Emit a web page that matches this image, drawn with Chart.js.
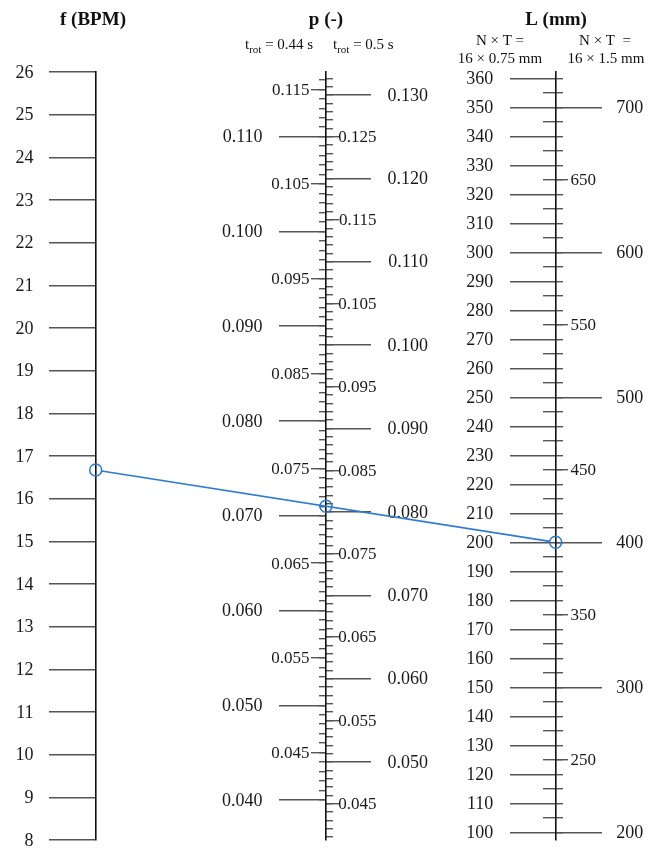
<!DOCTYPE html>
<html>
<head>
<meta charset="utf-8">
<script src="https://cdn.jsdelivr.net/npm/chart.js@4.4.1/dist/chart.umd.min.js"></script>
<style>
  html, body { margin: 0; padding: 0; background: #ffffff; }
  #wrap { position: relative; width: 648px; height: 849px; }
  canvas { display: block; }
</style>
</head>
<body>
<div id="wrap"><canvas id="nomo" width="648" height="849"></canvas></div>
<script>
// ---------------- DATA ----------------
// f (BPM) scale
const fTicks = [8, 9, 10, 11, 12, 13, 14, 15, 16, 17, 18, 19, 20, 21, 22, 23, 24, 25, 26];
// p (-) scale, t_rot = 0.44 s (left side)
const pLeftMajor = [0.040, 0.050, 0.060, 0.070, 0.080, 0.090, 0.100, 0.110];
const pLeftMid = [0.045, 0.055, 0.065, 0.075, 0.085, 0.095, 0.105, 0.115];
const pLeftMinorSpan = [40, 116];      // thousandths
// p (-) scale, t_rot = 0.5 s (right side)
const pRightMajor = [0.050, 0.060, 0.070, 0.080, 0.090, 0.100, 0.110, 0.120, 0.130];
const pRightMid = [0.045, 0.055, 0.065, 0.075, 0.085, 0.095, 0.105, 0.115, 0.125];
const pRightMinorSpan = [41, 132];     // thousandths
// L (mm) scale, N x T = 16 x 0.75 mm (left side)
const LLeftMajor = [100, 110, 120, 130, 140, 150, 160, 170, 180, 190, 200, 210, 220, 230, 240, 250, 260, 270, 280, 290, 300, 310, 320, 330, 340, 350, 360];
const LLeftMid = [105, 115, 125, 135, 145, 155, 165, 175, 185, 195, 205, 215, 225, 235, 245, 255, 265, 275, 285, 295, 305, 315, 325, 335, 345, 355];
// L (mm) scale, N x T = 16 x 1.5 mm (right side)
const LRightMajor = [200, 300, 400, 500, 600, 700];
const LRightMid = [250, 350, 450, 550, 650];
// Isopleth (example reading)
const isoF = [16.67];          // BPM
const isoP = [0.071, 0.0807];  // p at t_rot = 0.44 s, 0.5 s
const isoL = [200, 400];       // mm at 16x0.75, 16x1.5

// ---------------- LAYOUT ----------------
const COL = { f: 95.7, p: 326, L: 555.7 };         // column x positions (px)
const RANGE = {
  f: [8, 26],
  pL: [0.03578, 0.11682],
  pR: [0.03578 * 0.5 / 0.44, 0.11682 * 0.5 / 0.44],
  L1: [97.34, 362.17],
  L2: [194.68, 724.34]
};
const SERIF = "'Liberation Serif', 'Times New Roman', serif";
const BLUE = '#2b7bd3';
const TICK = '#555555';
const AXIS = '#111111';

function thousandths(span) {
  const out = [];
  for (let i = span[0]; i <= span[1]; i++) out.push(i / 1000);
  return out;
}
const pLeftMinor = thousandths(pLeftMinorSpan);
const pRightMinor = thousandths(pRightMinorSpan);
const LAll5 = LLeftMajor.concat(LLeftMid);

function zeroPad(s) { s.paddingTop = 0; s.paddingBottom = 0; s.paddingLeft = 0; s.paddingRight = 0; }

function tickAxis(range, xPos, len, values, border) {
  return {
    axis: 'y', type: 'linear', bounds: 'data',
    min: range[0], max: range[1],
    position: { x: xPos },
    afterBuildTicks: s => { s.ticks = values.map(v => ({ value: v })); },
    afterFit: zeroPad,
    border: { display: !!border, color: AXIS, width: 1.6 },
    grid: { display: true, drawOnChartArea: false, drawTicks: true, tickLength: len,
            tickColor: TICK, tickWidth: 1.4, color: TICK, lineWidth: 1.4 },
    ticks: { display: false }
  };
}
function labelAxis(range, xRight, values, size, fmt) {
  return {
    axis: 'y', type: 'linear', bounds: 'data',
    min: range[0], max: range[1],
    position: { x: xRight },
    afterBuildTicks: s => { s.ticks = values.map(v => ({ value: v })); },
    afterFit: zeroPad,
    border: { display: false },
    grid: { display: false, drawTicks: false, tickLength: 0 },
    ticks: { display: true, autoSkip: false, padding: 0, labelOffset: 1, color: '#1a1a1a',
             font: { family: SERIF, size: size, lineHeight: 1 },
             callback: v => fmt(v) }
  };
}
const f3 = v => Number(v).toFixed(3);
const f0 = v => String(Math.round(v));

const scales = {
  x: { type: 'linear', min: 0, max: 648, display: false, afterFit: zeroPad },
  // f axis
  fT: tickAxis(RANGE.f, COL.f, 46, fTicks, true),
  fLab: labelAxis(RANGE.f, 33.5, fTicks, 18, f0),
  // p axis, left (t_rot = 0.44 s)
  pL: tickAxis(RANGE.pL, COL.p, 46, pLeftMajor, true),
  pLmid: tickAxis(RANGE.pL, COL.p, 15, pLeftMid, false),
  pLmin: tickAxis(RANGE.pL, COL.p, 7, pLeftMinor, false),
  pLlab: labelAxis(RANGE.pL, 262.5, pLeftMajor, 18, f3),
  pLmidLab: labelAxis(RANGE.pL, 309.5, pLeftMid, 17, f3),
  // p axis, right (t_rot = 0.5 s)
  pR: tickAxis(RANGE.pR, COL.p + 45, 45, pRightMajor, false),
  pRmid: tickAxis(RANGE.pR, COL.p + 13, 13, pRightMid, false),
  pRmin: tickAxis(RANGE.pR, COL.p + 7, 7, pRightMinor, false),
  pRlab: labelAxis(RANGE.pR, 428, pRightMajor, 18, f3),
  pRmidLab: labelAxis(RANGE.pR, 376.5, pRightMid, 17, f3),
  // L axis, left (16 x 0.75 mm)
  L1: tickAxis(RANGE.L1, COL.L, 45, LLeftMajor, true),
  L1mid: tickAxis(RANGE.L1, COL.L, 13, LLeftMid, false),
  L1r: tickAxis(RANGE.L1, COL.L + 7.6, 7.6, LAll5, false),
  L1lab: labelAxis(RANGE.L1, 493.3, LLeftMajor, 18, f0),
  // L axis, right (16 x 1.5 mm)
  L2: tickAxis(RANGE.L2, COL.L + 46.3, 46.3, LRightMajor, false),
  L2mid: tickAxis(RANGE.L2, COL.L + 12.6, 12.6, LRightMid, false),
  L2lab: labelAxis(RANGE.L2, 643.3, LRightMajor, 18, f0),
  L2midLab: labelAxis(RANGE.L2, 596, LRightMid, 17, f0)
};

function pointSet(label, x, y, axisId) {
  return {
    label: label, data: [{ x: x, y: y }], yAxisID: axisId, xAxisID: 'x',
    pointRadius: 6, pointHoverRadius: 6, pointBorderWidth: 1.5,
    pointBorderColor: BLUE, pointBackgroundColor: 'rgba(0,0,0,0)',
    showLine: false, clip: false
  };
}

const isopleth = {
  id: 'isopleth',
  beforeDatasetsDraw(chart) {
    const a = chart.getDatasetMeta(0).data[0];
    const b = chart.getDatasetMeta(2).data[0];
    if (!a || !b) return;
    const dx = b.x - a.x, dy = b.y - a.y, d = Math.hypot(dx, dy), r = 6;
    const ctx = chart.ctx;
    ctx.save();
    ctx.strokeStyle = BLUE;
    ctx.lineWidth = 1.6;
    ctx.beginPath();
    ctx.moveTo(a.x + dx / d * r, a.y + dy / d * r);
    ctx.lineTo(b.x - dx / d * r, b.y - dy / d * r);
    ctx.stroke();
    ctx.restore();
  }
};

const headings = {
  id: 'headings',
  afterDraw(chart) {
    const ctx = chart.ctx;
    ctx.save();
    ctx.fillStyle = '#111';
    ctx.textBaseline = 'alphabetic';
    ctx.textAlign = 'center';
    ctx.font = 'bold 19px ' + SERIF;
    ctx.fillText('f (BPM)', 93, 25);
    ctx.fillText('p (-)', 326, 25);
    ctx.fillText('L (mm)', 556, 25);

    ctx.font = '15px ' + SERIF;
    ctx.fillText('N \u00d7 T =', 500, 45);
    ctx.fillText('16 \u00d7 0.75 mm', 500, 63);
    ctx.fillText('N \u00d7 T  =', 605, 45);
    ctx.fillText('16 \u00d7 1.5 mm', 606, 63);

    function trot(x, rest) {
      ctx.textAlign = 'left';
      ctx.font = '15px ' + SERIF;
      ctx.fillText('t', x, 48.5);
      let cx = x + ctx.measureText('t').width;
      ctx.font = '11px ' + SERIF;
      ctx.fillText('rot', cx, 53);
      cx += ctx.measureText('rot').width;
      ctx.font = '15px ' + SERIF;
      ctx.fillText(rest, cx, 48.5);
    }
    trot(245, ' = 0.44 s');
    trot(333, ' = 0.5 s');
    ctx.restore();
  }
};

new Chart(document.getElementById('nomo'), {
  type: 'scatter',
  data: {
    datasets: [
      pointSet('f', COL.f, isoF[0], 'fT'),
      pointSet('p', COL.p, isoP[0], 'pL'),
      pointSet('L', COL.L, isoL[0], 'L1')
    ]
  },
  options: {
    responsive: false,
    animation: false,
    events: [],
    layout: { autoPadding: false, padding: { top: 72, bottom: 9, left: 0, right: 0 } },
    plugins: { legend: { display: false }, tooltip: { enabled: false }, title: { display: false } },
    scales: scales
  },
  plugins: [isopleth, headings]
});
</script>
</body>
</html>
